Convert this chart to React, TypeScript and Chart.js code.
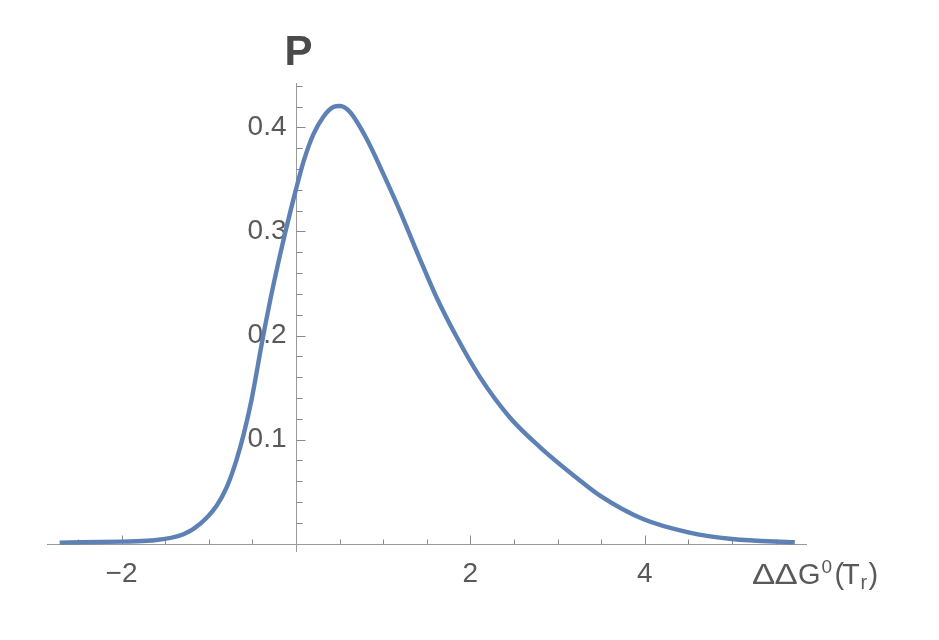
import React, { useEffect, useRef } from "react";
import { Chart, registerables } from "chart.js";

Chart.register(...registerables);

// ---- data ----
const xValues = [-2.71, -2.0, -1.66, -1.29, -1.10, -0.91, -0.795, -0.68, -0.60, -0.51, -0.375, -0.25, -0.12, 0.008, 0.09, 0.198, 0.313, 0.428, 0.505, 0.619, 0.81, 1.0, 1.19, 1.42, 1.61, 1.84, 2.11, 2.45, 2.80, 3.26, 3.49, 3.98, 4.50, 5.0, 5.72];
const pValues = [0.001, 0.002, 0.003, 0.009, 0.019, 0.0365, 0.054, 0.081, 0.105, 0.138, 0.200, 0.252, 0.300, 0.343, 0.368, 0.393, 0.410, 0.4195, 0.4205, 0.4147, 0.389, 0.3555, 0.320, 0.2737, 0.237, 0.199, 0.160, 0.1215, 0.0926, 0.0605, 0.046, 0.0237, 0.0109, 0.0045, 0.0013];

const xMajorTicks = [-2, 2, 4];
const xTickLabels = ["\u22122", "2", "4"];
const xMinorTicks = [-2.5, -1.5, -1, -0.5, 0.5, 1, 1.5, 2.5, 3, 3.5, 4.5, 5, 5.5];
const yMajorTicks = [0.1, 0.2, 0.3, 0.4];
const yTickLabels = ["0.1", "0.2", "0.3", "0.4"];
const yMinorTicks = [0.02, 0.04, 0.06, 0.08, 0.12, 0.14, 0.16, 0.18, 0.22, 0.24, 0.26, 0.28, 0.32, 0.34, 0.36, 0.38, 0.42, 0.44];

const X_MIN = -2.855;
const X_MAX = 5.86;
const Y_MIN = -0.008;
const Y_MAX = 0.4426;

const LINE_COLOR = "rgb(94,129,181)";
const AXIS_COLOR = "#9a9a9a";
const TICK_COLOR = "#8a8a8a";
const LABEL_COLOR = "#595959";
const FONT = '"Liberation Sans", Arial, Helvetica, sans-serif';

// x-axis title pieces: text, font size, baseline shift, x offset from start, horizontal stretch
const xTitleParts: [string, number, number, number, number][] = [
  ["\u0394", 29, 0, 0, 1.2],
  ["\u0394", 29, 0, 22.5, 1.2],
  ["G", 29, 0, 46, 1],
  ["0", 19, -11, 69.5, 1],
  ["(", 29, 0, 82.5, 1],
  ["T", 29, 0, 90, 1],
  ["r", 20, 5, 108.5, 1],
  [")", 29, 0, 116.5, 1],
];

const axesPlugin = {
  id: "mmaAxes",
  beforeDatasetsDraw(chart: any) {
    const { ctx, chartArea } = chart;
    const xs = chart.scales.x;
    const ys = chart.scales.y;
    const x0 = Math.round(xs.getPixelForValue(0)) + 0.5;
    const y0 = Math.round(ys.getPixelForValue(0)) + 0.5;
    ctx.save();
    ctx.lineWidth = 1;
    ctx.strokeStyle = AXIS_COLOR;
    ctx.beginPath();
    ctx.moveTo(chartArea.left, y0);
    ctx.lineTo(chartArea.right, y0);
    ctx.moveTo(x0, chartArea.top);
    ctx.lineTo(x0, chartArea.bottom);
    ctx.stroke();

    ctx.strokeStyle = TICK_COLOR;
    ctx.beginPath();
    for (const t of xMinorTicks) {
      const px = Math.round(xs.getPixelForValue(t)) + 0.5;
      ctx.moveTo(px, y0);
      ctx.lineTo(px, y0 - 5);
    }
    for (const t of xMajorTicks) {
      const px = Math.round(xs.getPixelForValue(t)) + 0.5;
      ctx.moveTo(px, y0);
      ctx.lineTo(px, y0 - 9);
    }
    for (const t of yMinorTicks) {
      const py = Math.round(ys.getPixelForValue(t)) + 0.5;
      ctx.moveTo(x0, py);
      ctx.lineTo(x0 + 6, py);
    }
    for (const t of yMajorTicks) {
      const py = Math.round(ys.getPixelForValue(t)) + 0.5;
      ctx.moveTo(x0, py);
      ctx.lineTo(x0 + 9, py);
    }
    ctx.stroke();

    ctx.fillStyle = LABEL_COLOR;
    ctx.font = `28px ${FONT}`;
    ctx.textAlign = "center";
    ctx.textBaseline = "alphabetic";
    xMajorTicks.forEach((t, i) => {
      ctx.fillText(xTickLabels[i], xs.getPixelForValue(t), y0 + 37);
    });
    ctx.textAlign = "right";
    ctx.textBaseline = "middle";
    yMajorTicks.forEach((t, i) => {
      ctx.fillText(yTickLabels[i], x0 - 10, ys.getPixelForValue(t));
    });

    // y axis label
    ctx.fillStyle = "#4a4a4a";
    ctx.font = `bold 42px ${FONT}`;
    ctx.textAlign = "left";
    ctx.textBaseline = "alphabetic";
    ctx.fillText("P", x0 - 12, 65);

    // x axis label  ΔΔG⁰(Tᵣ)
    ctx.fillStyle = LABEL_COLOR;
    const base = y0 + 39;
    const startX = xs.getPixelForValue(X_MAX) - 55;
    for (const [txt, size, dy, dx, sx] of xTitleParts) {
      ctx.save();
      ctx.font = `${size}px ${FONT}`;
      ctx.translate(startX + dx, base + dy);
      ctx.scale(sx, 1);
      ctx.fillText(txt, 0, 0);
      ctx.restore();
    }
    ctx.restore();
  },
};

export default function App() {
  const canvasRef = useRef<HTMLCanvasElement | null>(null);

  useEffect(() => {
    const canvas = canvasRef.current;
    if (!canvas) return;
    const chart = new Chart(canvas, {
      type: "line",
      data: {
        datasets: [
          {
            data: xValues.map((x, i) => ({ x, y: pValues[i] })),
            borderColor: LINE_COLOR,
            borderWidth: 4.4,
            pointRadius: 0,
            fill: false,
            cubicInterpolationMode: "monotone",
            borderCapStyle: "butt",
          } as any,
        ],
      },
      options: {
        animation: false,
        responsive: false,
        devicePixelRatio: 1,
        layout: { padding: { left: 47, right: 132, top: 83, bottom: 88 } },
        plugins: {
          legend: { display: false },
          tooltip: { enabled: false },
        },
        scales: {
          x: { type: "linear", min: X_MIN, max: X_MAX, display: false },
          y: { type: "linear", min: Y_MIN, max: Y_MAX, display: false },
        },
      } as any,
      plugins: [axesPlugin],
    });
    return () => chart.destroy();
  }, []);

  return (
    <div style={{ position: "absolute", left: 0, top: 0, width: 939, height: 640, background: "#fff" }}>
      <canvas ref={canvasRef} width={939} height={640} />
    </div>
  );
}
